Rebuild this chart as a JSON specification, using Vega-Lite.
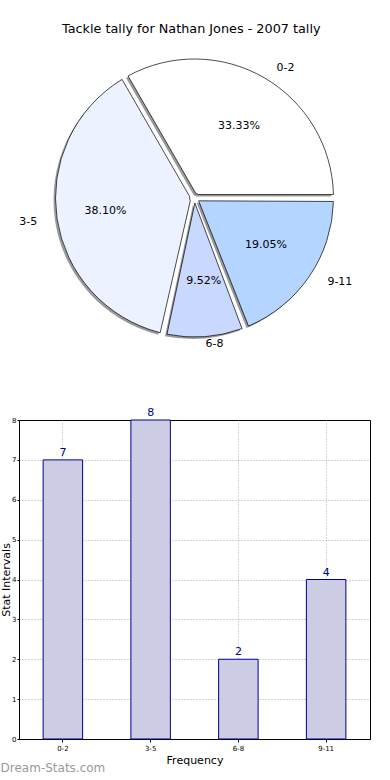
{
  "$schema": "https://vega.github.io/schema/vega-lite/v6.json",
  "padding": {"left": 0, "top": 23, "right": 0, "bottom": 0},
  "background": "white",
  "config": {"font": "DejaVu Sans", "view": {"stroke": "#000000", "strokeWidth": 1}},
  "title": {"text": "Tackle tally for Nathan Jones - 2007 tally", "fontSize": 12.8, "fontWeight": "normal", "color": "#000000", "anchor": "middle", "offset": 13, "dx": 6},
  "datasets": {
    "tally": [
      {"range": "0-2", "count": 7},
      {"range": "3-5", "count": 8},
      {"range": "6-8", "count": 2},
      {"range": "9-11", "count": 4}
    ]
  },
  "bounds": "flush",
  "spacing": 73,
  "vconcat": [
    {
      "width": 351,
      "height": 298,
      "view": {"stroke": null},
      "data": {"name": "tally"},
      "transform": [
        {"joinaggregate": [{"op": "sum", "field": "count", "as": "total"}]},
        {"calculate": "datum.count / datum.total", "as": "pct"}
      ],
      "encoding": {
        "theta": {"field": "count", "type": "quantitative", "stack": true, "scale": {"range": [1.5707963, 7.8539816]}},
        "order": {"field": "range", "type": "ordinal", "sort": "descending"}
      },
      "layer": [
        {"mark": {"type": "arc", "outerRadius": 139, "innerRadius": 5, "padAngle": 0.05, "fill": "#9a9a9a", "xOffset": -2, "yOffset": 2}},
        {
          "mark": {"type": "arc", "outerRadius": 139, "innerRadius": 5, "padAngle": 0.05, "stroke": "#000000", "strokeWidth": 0.7},
          "encoding": {
            "color": {"field": "range", "type": "nominal", "scale": {"domain": ["0-2", "3-5", "6-8", "9-11"], "range": ["#ffffff", "#ecf2ff", "#c8d8ff", "#b3d5ff"]}, "legend": null}
          }
        },
        {
          "mark": {"type": "text", "radius": 83, "dx": 3, "fontSize": 11, "color": "#000000"},
          "encoding": {"text": {"condition": {"test": "datum.range === '3-5'", "value": ""}, "field": "pct", "type": "quantitative", "format": ".2%"}}
        },
        {
          "mark": {"type": "text", "radius": 90, "fontSize": 11, "color": "#000000"},
          "encoding": {"text": {"condition": {"test": "datum.range !== '3-5'", "value": ""}, "field": "pct", "type": "quantitative", "format": ".2%"}}
        },
        {
          "mark": {"type": "text", "radius": 150, "dx": 7, "align": "left", "baseline": "middle", "fontSize": 11, "color": "#000000"},
          "encoding": {"text": {"condition": {"test": "datum.range !== '0-2'", "value": ""}, "field": "range", "type": "nominal"}}
        },
        {
          "mark": {"type": "text", "radius": 146, "align": "left", "baseline": "middle", "fontSize": 11, "color": "#000000"},
          "encoding": {"text": {"condition": {"test": "datum.range !== '6-8'", "value": ""}, "field": "range", "type": "nominal"}}
        },
        {
          "mark": {"type": "text", "radius": 156, "dx": 4, "dy": -4, "align": "left", "baseline": "middle", "fontSize": 11, "color": "#000000"},
          "encoding": {"text": {"condition": {"test": "datum.range !== '9-11'", "value": ""}, "field": "range", "type": "nominal"}}
        },
        {
          "mark": {"type": "text", "radius": 159, "align": "right", "baseline": "middle", "fontSize": 11, "color": "#000000"},
          "encoding": {"text": {"condition": {"test": "datum.range !== '3-5'", "value": ""}, "field": "range", "type": "nominal"}}
        }
      ]
    },
    {
      "width": 351,
      "height": 319,
      "data": {"name": "tally"},
      "title": {"text": "Dream-Stats.com", "orient": "bottom", "anchor": "start", "frame": "bounds", "offset": -2, "fontSize": 12, "fontWeight": "normal", "color": "#999999"},
      "encoding": {
        "x": {
          "field": "range", "type": "nominal", "sort": ["0-2", "3-5", "6-8", "9-11"],
          "scale": {"paddingInner": 0.55, "paddingOuter": 0.275},
          "axis": {"title": "Frequency", "labelAngle": 0, "labelFontSize": 7, "labelColor": "#000000", "titleFontSize": 11, "titleFontWeight": "normal", "titleColor": "#000000", "grid": true, "bandPosition": 0.5, "gridDash": [1, 2], "gridColor": "#aaaaaa", "tickSize": 3, "tickColor": "#000000", "domainColor": "#000000", "labelPadding": 2, "titlePadding": 3}
        },
        "y": {
          "field": "count", "type": "quantitative", "scale": {"domain": [0, 8]},
          "axis": {"title": "Stat Intervals", "values": [0, 1, 2, 3, 4, 5, 6, 7, 8], "labelFontSize": 7, "labelColor": "#000000", "titleFontSize": 11, "titleFontWeight": "normal", "titleColor": "#000000", "grid": true, "gridOpacity": {"condition": {"test": "datum.value >= 8", "value": 0}, "value": 1}, "gridDash": [1, 2], "gridColor": "#aaaaaa", "tickSize": 2, "tickColor": "#000000", "domainColor": "#000000", "labelPadding": 1, "titlePadding": 0}
        }
      },
      "layer": [
        {"mark": {"type": "bar", "fill": "#ccccE5", "stroke": "#000088", "strokeWidth": 1}},
        {"mark": {"type": "text", "dy": -7, "fontSize": 11, "color": "#000088"}, "encoding": {"text": {"field": "count", "type": "quantitative"}}}
      ]
    }
  ]
}
